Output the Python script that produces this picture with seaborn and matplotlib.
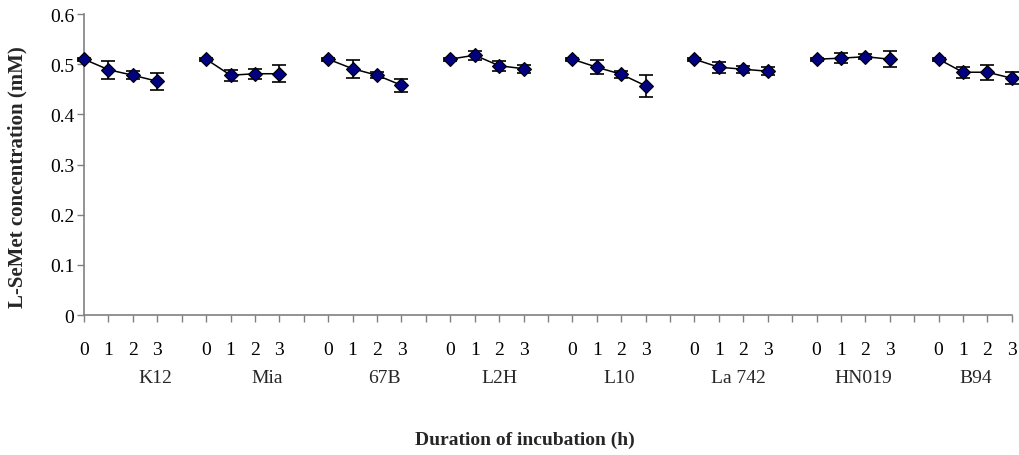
import numpy as np
import pandas as pd
import matplotlib
matplotlib.use("Agg")
import matplotlib.pyplot as plt
import matplotlib.transforms as mtransforms
import seaborn as sns

# Strains and incubation times (h)
strains = ["K12", "Mia", "67B", "L2H", "L10", "La 742", "HN019", "B94"]
hours = [0, 1, 2, 3]

# Mean L-SeMet concentration (mM) at 0, 1, 2, 3 h for each strain
k12 = [0.510, 0.489, 0.478, 0.466]
mia = [0.510, 0.478, 0.481, 0.481]
b67 = [0.510, 0.491, 0.478, 0.458]
l2h = [0.510, 0.518, 0.497, 0.491]
l10 = [0.510, 0.494, 0.480, 0.457]
la742 = [0.510, 0.494, 0.490, 0.486]
hn019 = [0.510, 0.512, 0.515, 0.510]
b94 = [0.510, 0.484, 0.484, 0.472]

# Standard deviations
k12_sd = [0.003, 0.018, 0.008, 0.017]
mia_sd = [0.003, 0.011, 0.010, 0.017]
b67_sd = [0.003, 0.018, 0.006, 0.013]
l2h_sd = [0.003, 0.009, 0.010, 0.008]
l10_sd = [0.003, 0.014, 0.007, 0.022]
la742_sd = [0.003, 0.011, 0.007, 0.008]
hn019_sd = [0.003, 0.010, 0.005, 0.016]
b94_sd = [0.003, 0.011, 0.015, 0.012]

means = [k12, mia, b67, l2h, l10, la742, hn019, b94]
sds = [k12_sd, mia_sd, b67_sd, l2h_sd, l10_sd, la742_sd, hn019_sd, b94_sd]

rows = []
for g, (name, m, s) in enumerate(zip(strains, means, sds)):
    for h, v, e in zip(hours, m, s):
        rows.append({"strain": name, "pos": g * 5 + h, "hour": h, "conc": v, "sd": e})
df = pd.DataFrame(rows)

sns.set_style("white")
plt.rcParams["font.family"] = ["Liberation Serif", "DejaVu Serif"]

fig = plt.figure(figsize=(10.2, 4.56), dpi=100)
ax = fig.add_axes([0.0824, 0.307, 0.9096, 0.660])

for name in strains:
    sub = df[df["strain"] == name]
    eb = ax.errorbar(sub["pos"], sub["conc"], yerr=sub["sd"], fmt="none",
                     ecolor="black", elinewidth=1.2, capsize=5, capthick=1.2, zorder=2)
    for artist in eb.lines[1] + eb.lines[2]:
        artist.set_clip_on(False)
    sns.lineplot(data=sub, x="pos", y="conc", ax=ax, color="black", lw=1.1,
                 marker="D", markersize=7, markerfacecolor="#000080",
                 markeredgecolor="black", markeredgewidth=0.8,
                 estimator=None, legend=False, zorder=3, clip_on=False)

n_slots = len(strains) * 5 - 1
ax.set_xlim(0, n_slots - 1)
ax.set_ylim(0, 0.6)
ax.set_yticks(np.arange(0, 0.61, 0.1))
ax.set_yticklabels(["0", "0.1", "0.2", "0.3", "0.4", "0.5", "0.6"])
ax.set_xticks(np.arange(0, n_slots))
ax.set_xticklabels([str(i % 5) if i % 5 < 4 else "" for i in range(n_slots)])

for side in ["top", "right"]:
    ax.spines[side].set_visible(False)
for side in ["left", "bottom"]:
    ax.spines[side].set_color("#808080")
    ax.spines[side].set_linewidth(1.2)
ax.tick_params(axis="both", direction="out", length=5, width=1.0,
               color="#808080", labelsize=14, labelcolor="black",
               bottom=True, left=True)
ax.tick_params(axis="x", pad=14)
ax.tick_params(axis="y", pad=2)

ax.set_xlabel("")
ax.set_ylabel("L-SeMet concentration (mM)", fontsize=15, fontweight="bold")
ax.yaxis.set_label_coords(-0.061, 0.46)

# Strain names beneath the hour labels
label_pos = [2.9, 7.5, 12.3, 17.0, 21.9, 26.8, 31.9, 36.5]
trans = mtransforms.blended_transform_factory(ax.transData, fig.transFigure)
for name, xp in zip(strains, label_pos):
    ax.text(xp, 1 - 379 / 456, name, transform=trans, ha="center", va="center",
            fontsize=14)

fig.text(525 / 1020, 1 - 440 / 456, "Duration of incubation (h)", ha="center",
         va="center", fontsize=14, fontweight="bold")

fig.savefig("out.png", dpi=100)
